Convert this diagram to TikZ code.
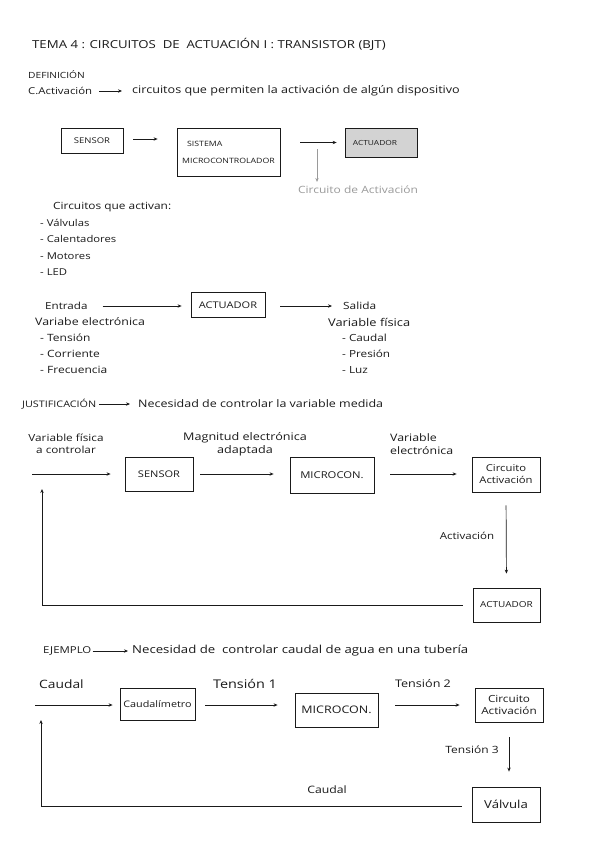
\documentclass[tikz,border=0pt]{standalone}
\usepackage{fontspec}
\setmainfont[FakeStretch=1.2]{Open Sans}
\usetikzlibrary{arrows.meta}
\definecolor{ink}{HTML}{1A1A1A}
\definecolor{lightink}{HTML}{9A9A9A}
\definecolor{actfill}{HTML}{D3D3D3}
\newcommand{\fsz}[1]{\fontsize{#1}{1.2\dimexpr#1pt\relax}\selectfont}
\begin{document}
\begin{tikzpicture}[x=1pt,y=-1pt,
  txt/.style={inner sep=0pt, anchor=west, text=ink, font=\fsz{10.5}},
  ctxt/.style={inner sep=0pt, text=ink, font=\fsz{10.5}},
  box/.style={draw=ink, line width=0.8pt, inner sep=1pt, align=center, text=ink},
  arr/.style={draw=ink, -{Stealth[length=4pt,width=3.4pt]}, line width=0.7pt},
  garr/.style={draw=lightink, -{Stealth[length=4pt,width=3.4pt]}, line width=0.6pt}
]
\useasboundingbox (0,0) rectangle (599,848);
\fill[white] (0,0) rectangle (599,848);

% Title
\node[txt, font=\fsz{11}] (title) at (32,44) {TEMA 4 : CIRCUITOS \ DE \ ACTUACIÓN I : TRANSISTOR (BJT)};

% Definition
\node[txt, font=\fsz{8.5}] (def) at (28,75) {DEFINICIÓN};
\node[txt, font=\fsz{9.5}] (cact) at (28,91) {C.Activación};
\node[txt] (cdef) at (132,91) {circuitos que permiten la activación de algún dispositivo};
\draw[arr, shorten <=7pt, shorten >=10pt] (cact.east) -- (cdef.west);

% Diagram 1
\node[box, minimum width=62pt, minimum height=25pt, font=\fsz{7.9}] (sensorA) at (92,140.5) {SENSOR};
\node[box, minimum width=103pt, minimum height=48pt, align=left, font=\fontsize{7.3}{17}\selectfont] (sistema) at (228.5,152) {\hspace{5pt}SISTEMA\\MICROCONTROLADOR};
\node[box, fill=actfill, minimum width=72pt, minimum height=29pt, font=\fsz{7}] (actA) at (381,142.5) {ACTUADOR\hspace{12pt}};
\draw[arr, shorten <=10pt, shorten >=19pt] (sensorA.east |- 0,139) -- (sistema.west |- 0,139);
\draw[arr, shorten <=20pt, shorten >=8pt] (actA.west -| sistema.east) -- (actA.west);
\coordinate (cabr) at (317,149);
\node[ctxt, text=lightink, font=\fsz{10}] (catext) at (358,190) {Circuito de Activación};
\draw[garr, shorten >=4pt] (cabr) -- (cabr |- catext.north);

% List
\node[txt, font=\fsz{9.9}] (lhead) at (53,207) {Circuitos que activan:};
\node[txt, font=\fsz{9.4}] (l1) at (40,223) {- Válvulas};
\node[txt, font=\fsz{9.4}] (l2) at (40,239) {- Calentadores};
\node[txt, font=\fsz{9.4}] (l3) at (40,256) {- Motores};
\node[txt, font=\fsz{9.4}] (l4) at (40,272) {- LED};

% Diagram 2
\node[txt, font=\fsz{9.7}] (entrada) at (45,306) {Entrada};
\node[box, minimum width=74pt, minimum height=25pt, font=\fsz{9.2}] (actB) at (228,305) {ACTUADOR};
\node[txt, font=\fsz{9.9}] (salida) at (343,306) {Salida};
\draw[arr, shorten <=15pt, shorten >=9pt] (entrada.east) -- (entrada.east -| actB.west);
\draw[arr, shorten <=15pt, shorten >=11pt] (salida.west -| actB.east) -- (salida.west);
\node[txt, font=\fsz{10.3}] (vel) at (35,322) {Variabe electrónica};
\node[txt, font=\fsz{10}] (e1) at (40,338) {- Tensión};
\node[txt, font=\fsz{10}] (e2) at (40,354) {- Corriente};
\node[txt, font=\fsz{10}] (e3) at (40,370) {- Frecuencia};
\node[txt, font=\fsz{10.7}] (vfis) at (328,322) {Variable física};
\node[txt, font=\fsz{9.8}] (s1) at (342,338) {- Caudal};
\node[txt, font=\fsz{9.8}] (s2) at (342,354) {- Presión};
\node[txt, font=\fsz{9.8}] (s3) at (342,370) {- Luz};

% Justification
\node[txt, font=\fsz{9}] (just) at (22,404) {JUSTIFICACIÓN};
\node[txt, font=\fsz{10.4}] (justt) at (138,404) {Necesidad de controlar la variable medida};
\draw[arr, shorten <=3pt, shorten >=8pt] (just.east) -- (justt.west);

% Diagram 3
\node[ctxt, align=center, font=\fsz{9.8}] (vf3) at (66,444) {Variable física\\a controlar};
\node[ctxt, align=center] (mag3) at (245,444) {Magnitud electrónica\\adaptada};
\node[ctxt, align=left, anchor=west, font=\fsz{10.3}] (ve3) at (390,444) {Variable\\electrónica};
\coordinate (in3) at (32,474);
\node[box, minimum width=68pt, minimum height=34pt, font=\fsz{9.2}] (sensorC) at (159,474) {SENSOR};
\node[box, minimum width=84pt, minimum height=36pt, font=\fsz{9.4}] (microC) at (332,475) {MICROCON.};
\node[box, minimum width=68pt, minimum height=35pt, font=\fontsize{9.4}{12}\selectfont] (circC) at (506,474.5) {Circuito\\Activación};
\node[box, minimum width=67pt, minimum height=34pt, font=\fsz{8.3}] (actC) at (506.5,605) {ACTUADOR};
\draw[arr, shorten >=14pt] (in3) -- (in3 -| sensorC.west);
\draw[arr, shorten <=7pt, shorten >=16pt] (sensorC.east |- 0,474) -- (microC.west |- 0,474);
\draw[arr, shorten <=16pt, shorten >=15pt] (microC.east |- 0,474) -- (circC.west |- 0,474);
\draw[arr, shorten <=13pt, shorten >=14pt] (circC.south) -- (actC.north);
\node[ctxt, font=\fsz{9.6}] (actlab) at (467,536) {Activación};
\coordinate (fb3) at (42,489);
\draw[arr, shorten <=10pt] (actC.west) -- (actC.west -| fb3) -- (fb3);

% Example
\node[txt, font=\fsz{9.5}] (ej) at (43,651) {EJEMPLO};
\node[txt, font=\fsz{11}] (ejt) at (132,651) {Necesidad de \ controlar caudal de agua en una tubería};
\draw[arr, shorten <=1pt, shorten >=4pt] (ej.east) -- (ejt.west);

% Diagram 4
\node[txt, font=\fsz{11.5}] (caudin) at (39,684) {Caudal};
\node[ctxt, font=\fsz{12}] (t1) at (245,684) {Tensión 1};
\node[ctxt, font=\fsz{10.5}] (t2) at (423,684) {Tensión 2};
\coordinate (in4) at (35,705);
\node[box, minimum width=75pt, minimum height=32pt, font=\fsz{9}] (caud) at (157.5,704) {Caudalímetro};
\node[box, minimum width=83pt, minimum height=34pt, font=\fsz{10.4}] (microD) at (336.5,710) {MICROCON.};
\node[box, minimum width=68pt, minimum height=34pt, font=\fontsize{9.8}{12}\selectfont] (circD) at (509,705) {Circuito\\Activación};
\node[box, minimum width=68pt, minimum height=35pt, font=\fsz{11}] (valv) at (506,804.5) {Válvula};
\draw[arr, shorten >=7pt] (in4) -- (in4 -| caud.west);
\draw[arr, shorten <=10pt, shorten >=17pt] (caud.east |- 0,705) -- (microD.west |- 0,705);
\draw[arr, shorten <=17pt, shorten >=15pt] (circD.west -| microD.east) -- (circD.west);
\draw[arr, shorten <=15pt, shorten >=15pt] (circD.south) -- (circD.south |- valv.north);
\node[ctxt, font=\fsz{10}] (t3) at (472,750) {Tensión 3};
\node[ctxt, font=\fsz{10.2}] (caudfb) at (327,790) {Caudal};
\coordinate (fb4) at (41,720);
\draw[arr, shorten <=10pt] (valv.west |- 0,806) -- (fb4 |- 0,806) -- (fb4);
\end{tikzpicture}
\end{document}
